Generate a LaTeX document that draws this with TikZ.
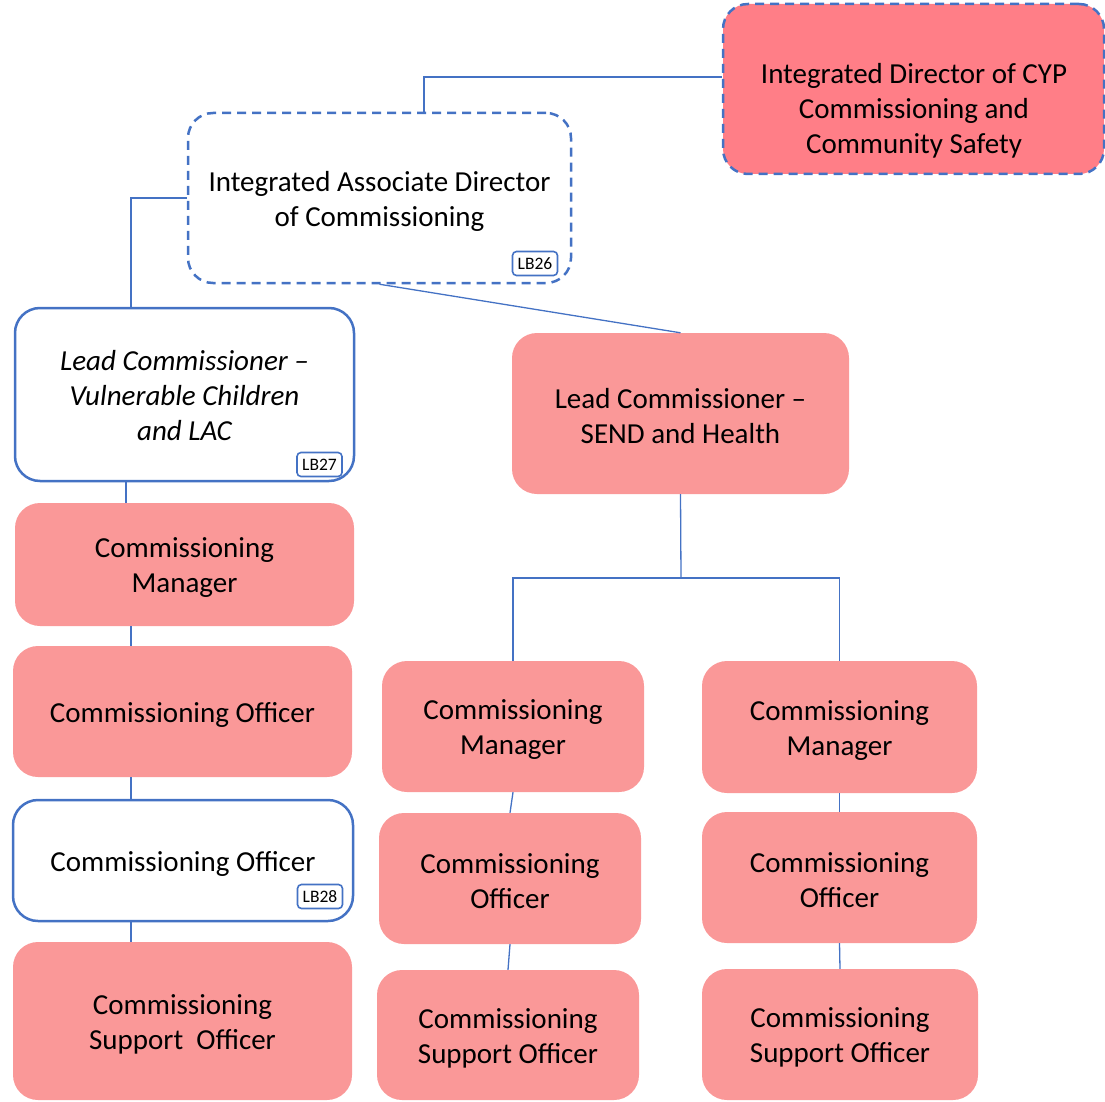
\documentclass[tikz,border=0pt]{standalone}
\usepackage{fontspec}
\setmainfont{Carlito}
\definecolor{bluec}{HTML}{4472C4}
\definecolor{pinkc}{HTML}{FA9898}
\definecolor{topc}{HTML}{FF7E87}
\begin{document}
\begin{tikzpicture}[x=1pt,y=-1pt,
  box/.style={rounded corners=25pt, align=center, font=\fontsize{29}{35}\selectfont, inner sep=0pt},
  sone/.style={execute at begin node={\rule{0pt}{27pt}}},
  stwo/.style={execute at begin node={\rule{0pt}{61pt}}},
  sthree/.style={execute at begin node={\rule{0pt}{93pt}}},
  pinkbox/.style={box, fill=pinkc},
  whitebox/.style={box, draw=bluec, line width=2.5pt, fill=white},
  dashbox/.style={box, draw=bluec, line width=2.5pt, dash pattern=on 9pt off 6pt},
  badge/.style={draw=bluec, line width=1.6pt, rounded corners=4pt, fill=white, font=\fontsize{17.5}{20}\selectfont, minimum width=45pt, minimum height=24pt, inner sep=0pt},
  conn/.style={draw=bluec, line width=1.3pt}]
\useasboundingbox (0,0) rectangle (1105,1102);

\coordinate (j1) at (424,77);
\coordinate (j2) at (131,198);
\coordinate (j3) at (681,578);
\coordinate (cxa) at (126,0);
\coordinate (cxb) at (131,0);

% boxes
\node[dashbox, fill=topc, minimum width=381pt, minimum height=170pt] (dir) at (913.5,89) {};
\node[box] (dirtxt) at (914,111) {Integrated Director of CYP\\Commissioning and\\Community Safety};
\node[dashbox, stwo, fill=white, minimum width=383pt, minimum height=170pt] (assoc) at (379.5,198) {Integrated Associate Director\\of Commissioning};
\node[badge] (b26) at (535,263.5) {LB26};

\node[whitebox, sthree, minimum width=339pt, minimum height=173pt] (lc) at (184.5,394.5) {\itshape Lead Commissioner –\\\itshape Vulnerable Children\\\itshape and LAC};
\node[badge] (b27) at (319.5,464.5) {LB27};
\node[pinkbox, stwo, minimum width=339pt, minimum height=123pt] (cm1) at (184.5,564.5) {Commissioning\\Manager};
\node[pinkbox, sone, minimum width=339pt, minimum height=131pt] (co1) at (182.5,711.5) {Commissioning Officer};
\node[whitebox, sone, minimum width=340pt, minimum height=121pt] (co2) at (183,860.5) {Commissioning Officer};
\node[badge] (b28) at (320,896.5) {LB28};
\node[pinkbox, stwo, minimum width=339pt, minimum height=158pt] (cs1) at (182.5,1021) {Commissioning\\Support~ Officer};

\node[pinkbox, stwo, minimum width=337pt, minimum height=161pt] (send) at (680.5,413.5) {Lead Commissioner –\\SEND and Health};
\node[pinkbox, stwo, minimum width=262pt, minimum height=131pt] (cmm) at (513,726.5) {Commissioning\\Manager};
\node[pinkbox, stwo, minimum width=275pt, minimum height=132pt] (cmr) at (839.5,727) {Commissioning\\Manager};
\node[pinkbox, stwo, minimum width=262pt, minimum height=131pt] (com) at (510,878.5) {Commissioning\\Officer};
\node[pinkbox, stwo, minimum width=275pt, minimum height=131pt] (cor) at (839.5,877.5) {Commissioning\\Officer};
\node[pinkbox, stwo, minimum width=262pt, minimum height=130pt] (csm) at (508,1035) {Commissioning\\Support Officer};
\node[pinkbox, stwo, minimum width=276pt, minimum height=131pt] (csr) at (840,1034.5) {Commissioning\\Support Officer};

% connectors
\draw[conn] (dir.west |- j1) -- (j1) -- (assoc.north -| j1);
\draw[conn] (assoc.west |- j2) -- (j2) -- (lc.north -| j2);
\draw[conn] (assoc.south) -- (send.north);
\draw[conn] (lc.south -| cxa) -- (cm1.north -| cxa);
\draw[conn] (cm1.south -| cxb) -- (co1.north -| cxb);
\draw[conn] (co1.south -| cxb) -- (co2.north -| cxb);
\draw[conn] (co2.south -| cxb) -- (cs1.north -| cxb);
\draw[conn] (send.south) -- (j3);
\draw[conn] (cmm.north) |- (j3) -| (cmr.north);
\draw[conn] (cmm.south) -- (com.north);
\draw[conn] (com.south) -- (csm.north);
\draw[conn] (cmr.south) -- (cor.north);
\draw[conn] (cor.south) -- (csr.north);
\end{tikzpicture}
\end{document}
